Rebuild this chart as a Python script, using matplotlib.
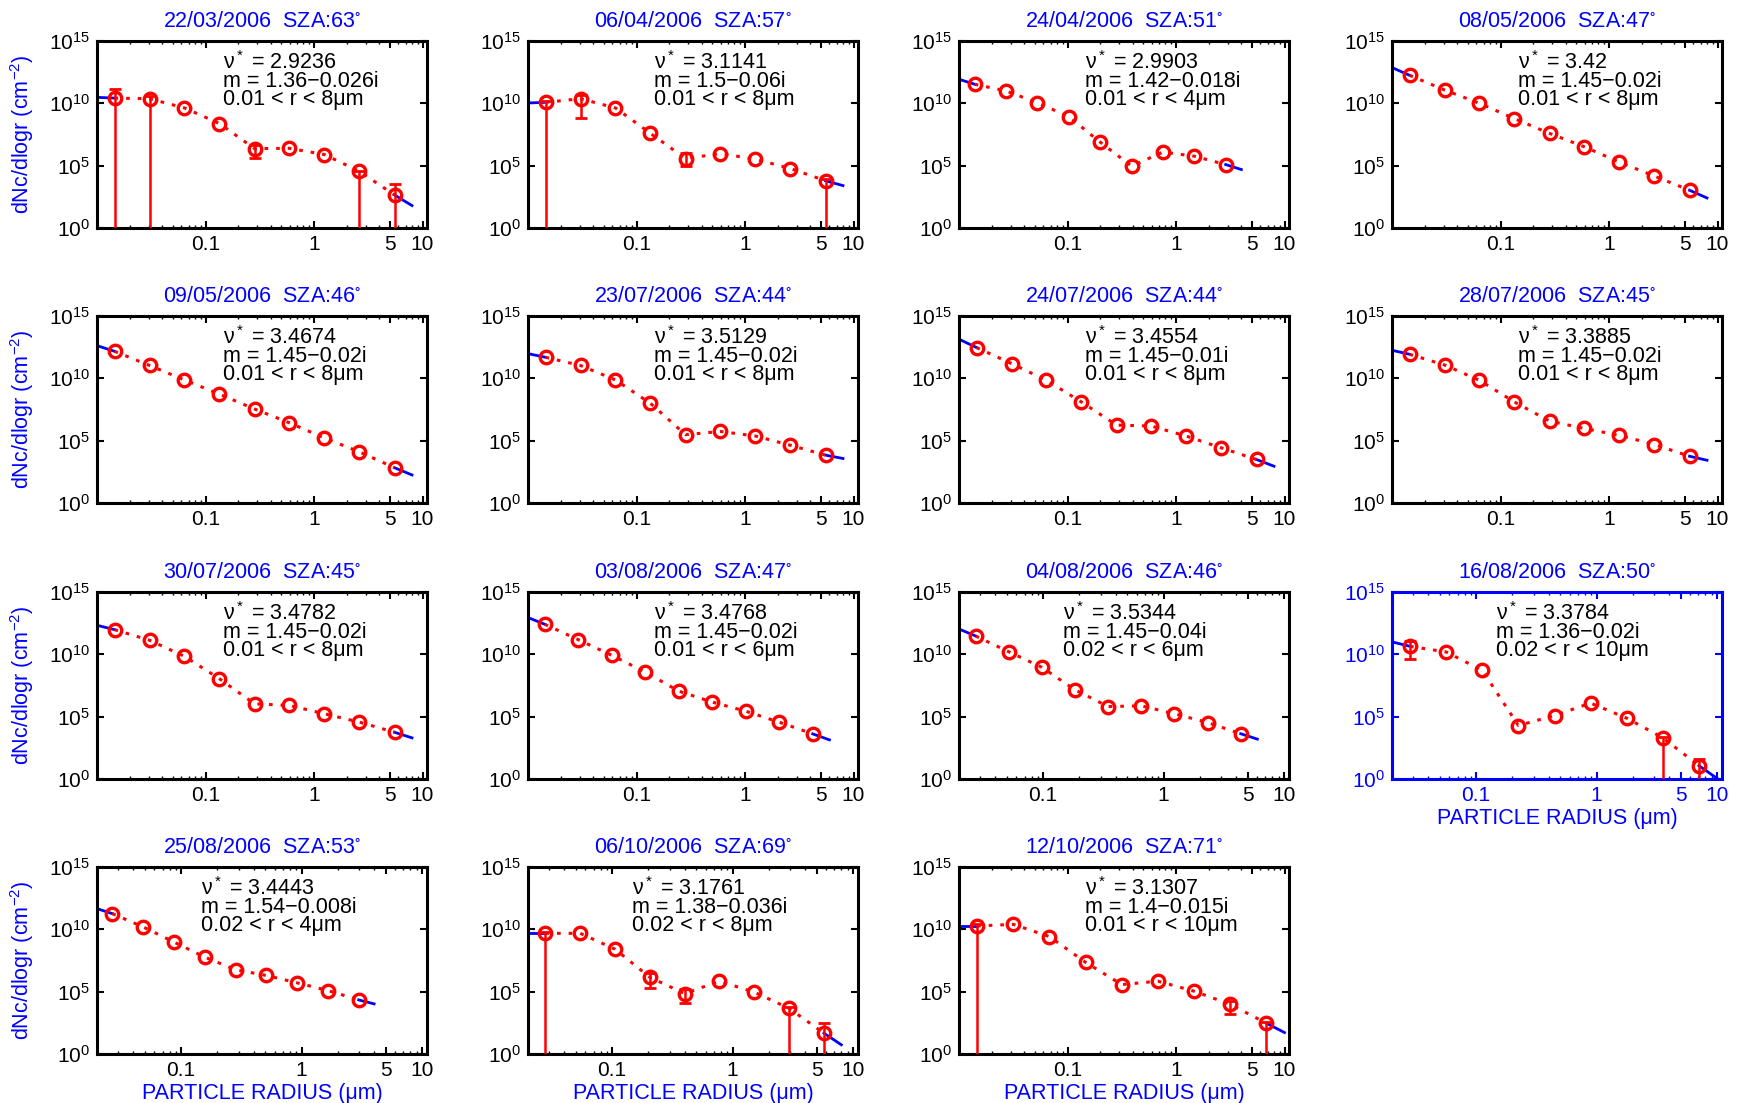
import matplotlib
matplotlib.use("Agg")
import matplotlib.pyplot as plt
from matplotlib.ticker import FixedLocator, FixedFormatter, NullLocator, LogLocator

plt.rcParams['font.family'] = ['Liberation Sans', 'DejaVu Sans']
plt.rcParams['mathtext.fontset'] = 'custom'
plt.rcParams['mathtext.rm'] = 'Liberation Sans'
plt.rcParams['mathtext.it'] = 'Liberation Sans:italic'
plt.rcParams['mathtext.default'] = 'regular'

# ---------------- data ----------------
TITLES = ["22/03/2006", "06/04/2006", "24/04/2006", "08/05/2006",
          "09/05/2006", "23/07/2006", "24/07/2006", "28/07/2006",
          "30/07/2006", "03/08/2006", "04/08/2006", "16/08/2006",
          "25/08/2006", "06/10/2006", "12/10/2006"]
SZA = [63, 57, 51, 47, 46, 44, 44, 45, 45, 47, 46, 50, 53, 69, 71]
NU = ["2.9236", "3.1141", "2.9903", "3.42", "3.4674", "3.5129", "3.4554",
      "3.3885", "3.4782", "3.4768", "3.5344", "3.3784", "3.4443", "3.1761", "3.1307"]
M_INDEX = ["1.36−0.026i", "1.5−0.06i", "1.42−0.018i", "1.45−0.02i", "1.45−0.02i",
           "1.45−0.02i", "1.45−0.01i", "1.45−0.02i", "1.45−0.02i", "1.45−0.02i",
           "1.45−0.04i", "1.36−0.02i", "1.54−0.008i", "1.38−0.036i", "1.4−0.015i"]
R_MIN = [0.01, 0.01, 0.01, 0.01, 0.01, 0.01, 0.01, 0.01, 0.01, 0.01, 0.02, 0.02, 0.02, 0.02, 0.01]
R_MAX = [8, 8, 4, 8, 8, 8, 8, 8, 8, 6, 6, 10, 4, 8, 10]

# radius bin centres (µm) for each retrieval range
R_01_8 = [0.0145, 0.0305, 0.064, 0.1345, 0.283, 0.594, 1.249, 2.625, 5.52]
R_01_4 = [0.01395, 0.02715, 0.0528, 0.1028, 0.200, 0.389, 0.757, 1.474, 2.868]
R_01_6 = [0.01427, 0.0290, 0.0591, 0.1203, 0.245, 0.4985, 1.015, 2.066, 4.205]
R_02_6 = [0.0275, 0.0517, 0.0975, 0.1838, 0.3464, 0.653, 1.2305, 2.319, 4.37]
R_02_10 = [0.02825, 0.0563, 0.1124, 0.2242, 0.4472, 0.892, 1.779, 3.549, 7.079]
R_02_4 = [0.0268, 0.0484, 0.0871, 0.157, 0.2828, 0.5095, 0.918, 1.654, 2.98]
R_02_8 = [0.0279, 0.0543, 0.1056, 0.2056, 0.400, 0.778, 1.514, 2.947, 5.734]
R_01_10 = [0.01468, 0.03162, 0.0681, 0.1468, 0.3162, 0.681, 1.468, 3.162, 6.81]
X_CENTERS = [R_01_8, R_01_8, R_01_4, R_01_8, R_01_8, R_01_8, R_01_8, R_01_8,
             R_01_8, R_01_6, R_02_6, R_02_10, R_02_4, R_02_8, R_01_10]

# log10(dNc/dlogr) of the retrieved points
LOG_N = [
    [10.42, 10.37, 9.63, 8.38, 6.37, 6.39, 5.89, 4.54, 2.65],
    [10.08, 10.37, 9.63, 7.59, 5.57, 5.97, 5.52, 4.77, 3.79],
    [11.53, 10.99, 10.05, 8.93, 6.89, 4.96, 6.09, 5.76, 5.09],
    [12.25, 11.07, 10.00, 8.77, 7.59, 6.51, 5.28, 4.16, 3.03],
    [12.17, 11.03, 9.87, 8.73, 7.54, 6.43, 5.21, 4.10, 2.83],
    [11.69, 11.03, 9.87, 7.99, 5.48, 5.74, 5.37, 4.63, 3.84],
    [12.47, 11.18, 9.84, 8.10, 6.25, 6.17, 5.36, 4.42, 3.49],
    [11.93, 11.07, 9.84, 8.10, 6.57, 5.98, 5.42, 4.69, 3.75],
    [11.98, 11.13, 9.84, 8.04, 6.03, 5.90, 5.23, 4.56, 3.75],
    [12.41, 11.18, 9.92, 8.58, 7.05, 6.17, 5.44, 4.56, 3.62],
    [11.47, 10.21, 8.96, 7.15, 5.81, 5.87, 5.23, 4.53, 3.63],
    [10.64, 10.19, 8.71, 4.29, 5.09, 6.09, 4.88, 3.30, 1.07],
    [11.26, 10.19, 8.98, 7.77, 6.76, 6.30, 5.71, 5.09, 4.34],
    [9.68, 9.68, 8.41, 6.15, 4.85, 5.84, 4.96, 3.66, 1.67],
    [10.27, 10.40, 9.42, 7.35, 5.57, 5.84, 5.04, 3.98, 2.47],
]

# visible error bars: (point index, log10 lower or None = down to zero, log10 upper)
ERR = [
    [(0, None, 11.14), (1, None, 10.55), (4, 5.65, 6.66), (7, None, 4.6), (8, None, 3.53)],
    [(0, None, 10.2), (1, 8.83, 10.65), (4, 4.99, 6.0), (8, None, 3.9)],
    [], [], [], [], [], [], [], [], [],
    [(0, 9.65, 11.1), (7, None, 3.4), (8, None, 1.6)],
    [],
    [(0, None, 9.8), (3, 5.31, 6.5), (4, 4.11, 5.2), (7, None, 3.8), (8, None, 2.52)],
    [(0, None, 10.4), (7, 3.18, 4.24), (8, None, 2.6)],
]

# blue fitted curve values at r_min and r_max (log10)
BLUE_LEFT = [10.48, 10.03, 11.93, 12.87, 12.62, 11.98, 13.14, 12.25, 12.33, 12.95,
             12.03, 11.0, 11.66, 9.68, 10.27]
BLUE_RIGHT = [1.80, 3.40, 4.69, 2.41, 2.25, 3.57, 2.95, 3.43, 3.30, 3.14,
              3.2, 0.05, 4.02, 0.74, 1.72]

XTICKS = [0.1, 1, 5, 10]
XTICKLABELS = ["0.1", "1", "5", "10"]
YTICKS = [1, 1e5, 1e10, 1e15]
YTICKLABELS = [r"$10^{0}$", r"$10^{5}$", r"$10^{10}$", r"$10^{15}$"]
X_MAX = 11.0

# ---------------- layout ----------------
W, H = 1741, 1103
fig = plt.figure(figsize=(W / 100, H / 100), dpi=100)
COL_LEFT = [97, 528, 959, 1392]
ROW_TOP = [41, 316, 592, 867]
AW, AH = 330, 187

BLUE = (0, 0, 1)
RED = (1, 0, 0)
FS = 15.5

for k in range(15):
    row, col = divmod(k, 4)
    l = COL_LEFT[col] / W
    b = 1 - (ROW_TOP[row] + AH) / H
    ax = fig.add_axes([l, b, AW / W, AH / H])
    ax.set_xscale('log')
    ax.set_yscale('log')
    ax.set_xlim(R_MIN[k], X_MAX)
    ax.set_ylim(1, 1e15)

    xs = X_CENTERS[k]
    ys = [10 ** v for v in LOG_N[k]]

    # blue fitted distribution ends
    ax.plot([R_MIN[k], xs[0]], [10 ** BLUE_LEFT[k], ys[0]], color=BLUE, lw=2, zorder=2)
    ax.plot([xs[-1], R_MAX[k]], [ys[-1], 10 ** BLUE_RIGHT[k]], color=BLUE, lw=2, zorder=2)

    # red dotted line
    ax.plot(xs, ys, color=RED, lw=2.2, ls=(0, (1.2, 2.6)), zorder=3)

    # error bars
    for (i, lo, hi) in ERR[k]:
        ylo = 0.0 if lo is None else 10 ** lo
        yhi = 10 ** hi
        ax.errorbar([xs[i]], [ys[i]], yerr=[[ys[i] - ylo], [yhi - ys[i]]],
                    fmt='none', ecolor=RED, elinewidth=1.8, capsize=4.5, capthick=2,
                    zorder=4)

    # markers
    ax.plot(xs, ys, ls='none', marker='o', ms=9, mfc='none', mec=RED, mew=2.4, zorder=5)

    # ticks
    ax.xaxis.set_major_locator(FixedLocator(XTICKS))
    ax.xaxis.set_major_formatter(FixedFormatter(XTICKLABELS))
    ax.xaxis.set_minor_locator(LogLocator(base=10, subs=range(2, 10)))
    ax.xaxis.set_minor_formatter(FixedFormatter([]))
    ax.yaxis.set_major_locator(FixedLocator(YTICKS))
    ax.yaxis.set_major_formatter(FixedFormatter(YTICKLABELS))
    ax.yaxis.set_minor_locator(NullLocator())

    fc = BLUE if k == 11 else 'black'
    ax.tick_params(which='major', direction='in', length=5, width=1.5,
                   top=True, right=True, labelsize=15, colors=fc, pad=5)
    ax.tick_params(which='minor', direction='in', length=2.5, width=1,
                   top=True, bottom=True, colors=fc)
    for sp in ax.spines.values():
        sp.set_linewidth(2.2)
        sp.set_color(fc)

    ax.set_title(f"{TITLES[k]}  SZA:{SZA[k]}" + r"$^{\circ}$", color=BLUE,
                 fontsize=FS, pad=10)

    # annotation text (one block of three lines)
    block = "\n".join([f"ν$^*$ = {NU[k]}",
                       f"m = {M_INDEX[k]}",
                       f"{R_MIN[k]} < r < {R_MAX[k]}μm"])
    ax.text(0.145, 10 ** 14.15, block, fontsize=FS, va='top', ha='left',
            linespacing=0.8)

    if col == 0:
        ax.set_ylabel(r"dNc/dlogr (cm$^{-2}$)", color=BLUE, fontsize=FS)
        ax.yaxis.set_label_coords(-0.185, 0.5)
    if row == 3 or k == 11:
        ax.set_xlabel("PARTICLE RADIUS (μm)", color=BLUE, fontsize=FS)
        ax.xaxis.set_label_coords(0.5, -0.155)

fig.savefig("out.png", dpi=100)
